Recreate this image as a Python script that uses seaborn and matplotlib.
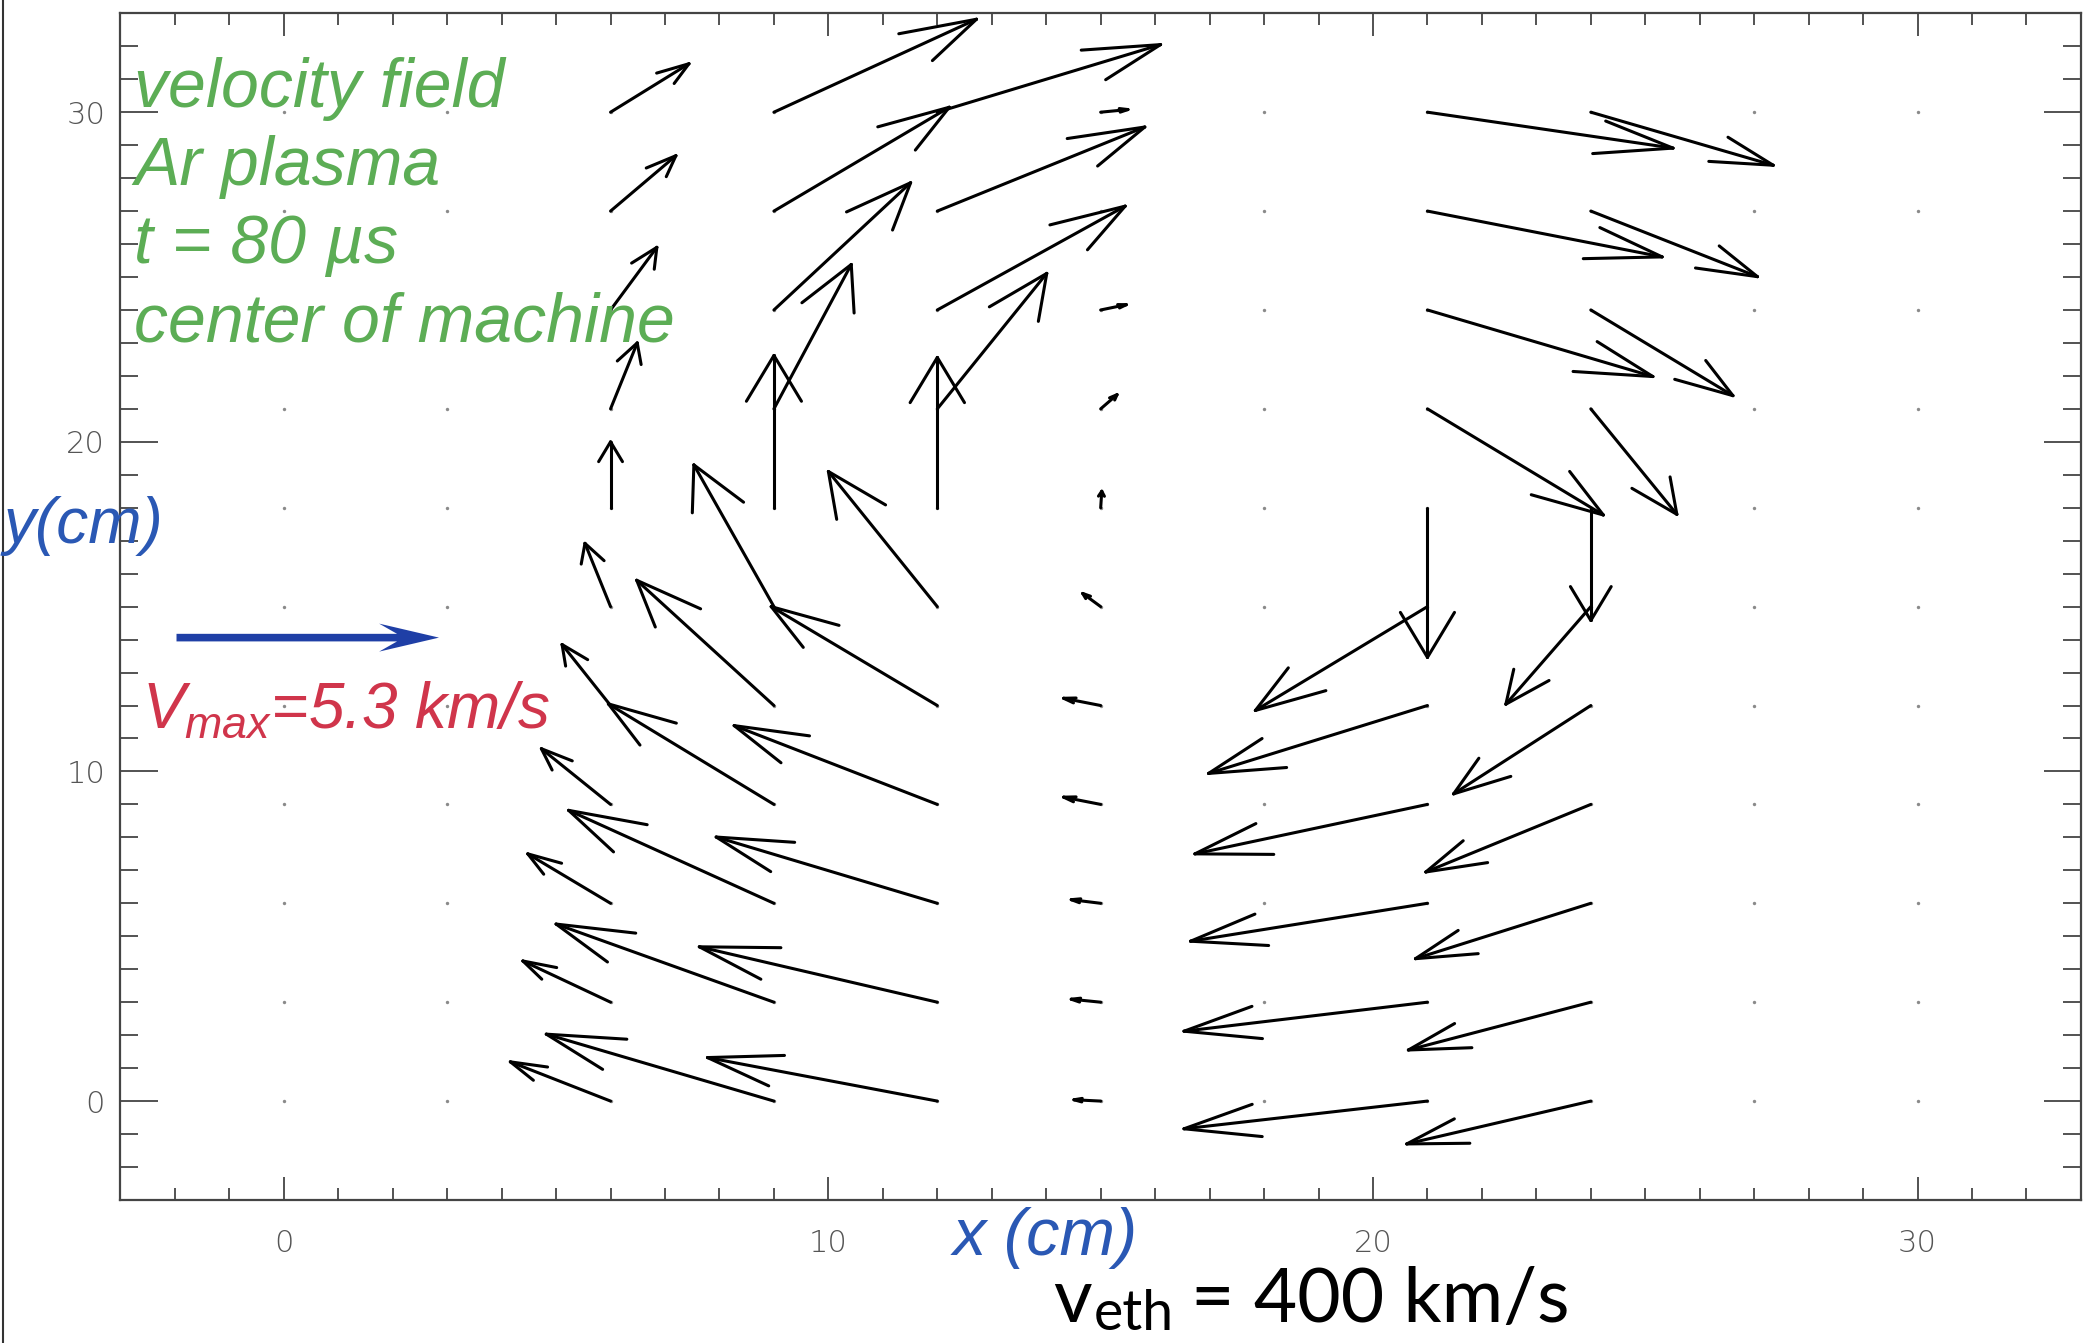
import numpy as np
import pandas as pd
import matplotlib
matplotlib.use("Agg")
import matplotlib.pyplot as plt
from matplotlib.collections import LineCollection
from matplotlib.lines import Line2D
from matplotlib.ticker import MultipleLocator
import seaborn as sns

# probe grid (cm)
x_grid = [0, 3, 6, 9, 12, 15, 18, 21, 24, 27, 30]
y_grid = [0, 3, 6, 9, 12, 15, 18, 21, 24, 27, 30]

# arrow components in plot cm, one list per column, rows y = 0 .. 30
u_x6 = [-1.84, -1.61, -1.52, -1.27, -0.89, -0.47, 0.0, 0.49, 0.85, 1.20, 1.44]
v_x6 = [1.19, 1.25, 1.50, 1.69, 1.85, 1.92, 2.00, 2.00, 1.90, 1.68, 1.47]
u_x9 = [-4.18, -4.00, -3.77, -3.04, -2.52, -1.47, 0.0, 1.42, 2.51, 3.22, 3.72]
v_x9 = [2.03, 2.37, 2.82, 3.05, 3.80, 4.30, 4.62, 4.38, 3.86, 3.15, 2.82]
u_x12 = [-4.22, -4.37, -4.06, -3.73, -3.05, -2.00, 0.0, 2.01, 3.45, 3.81, 4.10]
v_x12 = [1.32, 1.68, 2.01, 2.39, 3.00, 4.10, 4.56, 4.11, 3.15, 2.55, 2.05]
u_x15 = [-0.49, -0.54, -0.54, -0.68, -0.68, -0.33, 0.02, 0.30, 0.47, 0.0, 0.50]
v_x15 = [0.04, 0.09, 0.11, 0.22, 0.22, 0.40, 0.50, 0.43, 0.16, 0.0, 0.08]
u_x21 = [-4.47, -4.47, -4.35, -4.27, -4.02, -3.16, 0.0, 3.23, 4.14, 4.31, 4.51]
v_x21 = [-0.84, -0.88, -1.15, -1.50, -2.06, -3.15, -4.54, -3.22, -2.02, -1.39, -1.09]
u_x24 = [-3.38, -3.35, -3.22, -3.03, -2.52, -1.56, 0.0, 1.58, 2.61, 3.06, 3.35]
v_x24 = [-1.30, -1.45, -1.68, -2.05, -2.68, -2.96, -3.42, -3.20, -2.60, -1.99, -1.61]

# reference arrow for the max speed
vmax_label = "5.3 km/s"
key_x0, key_y, key_len = -1.97, 14.06, 4.82

info_lines = ["velocity field", "Ar plasma", "t = 80 \u00b5s", "center of machine"]

green = "#5cad55"
red = "#d0354b"
blue = "#2a58b4"
key_blue = "#1f3fa6"

sns.set_style("ticks")
plt.rcParams.update({
    "font.family": ["DejaVu Sans"],
    "mathtext.fontset": "custom",
    "mathtext.it": "Liberation Sans:italic",
    "mathtext.rm": "Liberation Sans",
})

# long table of the field
columns = {6: (u_x6, v_x6), 9: (u_x9, v_x9), 12: (u_x12, v_x12),
           15: (u_x15, v_x15), 21: (u_x21, v_x21), 24: (u_x24, v_x24)}
rows = []
for x in x_grid:
    u_col, v_col = columns.get(x, ([0.0] * len(y_grid), [0.0] * len(y_grid)))
    for y, u, v in zip(y_grid, u_col, v_col):
        rows.append((x, y, u, v))
df = pd.DataFrame(rows, columns=["x", "y", "u", "v"])

W, H = 2087, 1343
fig = plt.figure(figsize=(W / 100, H / 100), dpi=100)
ax = fig.add_axes([0.0577, 0.1065, 0.9394, 0.8836])
ax.set_xlim(-3, 33)
ax.set_ylim(-3, 33)

# grid points
sns.scatterplot(data=df, x="x", y="y", s=6, color="#8a8a8a", linewidth=0,
                ax=ax, legend=False, zorder=1)

# arrows, open heads like IDL velovect
segs = []
for r in df[np.hypot(df.u, df.v) > 0].itertuples():
    length = np.hypot(r.u, r.v)
    ang = np.arctan2(r.v, r.u)
    tx, ty = r.x + r.u, r.y + r.v
    segs.append([(r.x, r.y), (tx, ty)])
    for s in (1, -1):
        a = ang + np.pi + s * np.deg2rad(20)
        segs.append([(tx, ty), (tx + 0.32 * length * np.cos(a), ty + 0.32 * length * np.sin(a))])
ax.add_collection(LineCollection(segs, colors="black", linewidths=2.2,
                                 capstyle="round", zorder=3))

# key arrow
ax.arrow(key_x0, key_y, key_len, 0, width=0.23, head_width=0.85, head_length=1.1,
         overhang=0.3, length_includes_head=True, color=key_blue, lw=0, zorder=4)

# axes look
ax.xaxis.set_major_locator(MultipleLocator(10))
ax.xaxis.set_minor_locator(MultipleLocator(1))
ax.yaxis.set_major_locator(MultipleLocator(10))
ax.yaxis.set_minor_locator(MultipleLocator(1))
ax.tick_params(which="both", direction="in", top=True, right=True,
               color="#444444", width=1.3, labelcolor="#555555", labelsize=22)
ax.tick_params(axis="x", which="major", length=16.5, pad=21)
ax.tick_params(axis="x", which="minor", length=8.5)
ax.tick_params(axis="y", which="major", length=27, pad=11)
ax.tick_params(axis="y", which="minor", length=13)
for lab in ax.get_xticklabels() + ax.get_yticklabels():
    lab.set_fontweight("light")
for sp in ax.spines.values():
    sp.set_color("#444444")
    sp.set_linewidth(1.6)
ax.set_xlabel("")
ax.set_ylabel("")

# annotations
for i, line in enumerate(info_lines):
    fig.text(0.0642, 1 - (107 + 78 * i) / H, line, color=green, fontsize=49,
             style="italic", family="Liberation Sans", va="baseline", ha="left")

fig.text(0.0679, 1 - 728 / H, r"$V_{max}$=" + vmax_label, color=red, fontsize=46,
         style="italic", family="Liberation Sans", va="baseline", ha="left")
fig.text(0.5008, 1 - 1255 / H, "x (cm)", color=blue, fontsize=48,
         style="italic", family="Liberation Sans", va="baseline", ha="center")
fig.text(4 / W, 1 - 543 / H, "y(cm)", color=blue, fontsize=46,
         style="italic", family="Liberation Sans", va="baseline", ha="left")

# v_eth line, built from pieces so the subscript stays inside the figure
renderer = fig.canvas.get_renderer()
base = 1 - 1322 / H
t_v = fig.text(1053 / W, base, "v", color="black", fontsize=54, family="Lato",
               va="baseline", ha="left")
x_next = t_v.get_window_extent(renderer).x1 / W + 0.001
t_sub = fig.text(x_next, 1 - 1330 / H, "eth", color="black", fontsize=40,
                 family="Lato", va="baseline", ha="left")
x_next = t_sub.get_window_extent(renderer).x1 / W + 0.008
fig.text(x_next, base, "= 400 km/s", color="black", fontsize=54, family="Lato",
         va="baseline", ha="left")

fig.add_artist(Line2D([0.0012, 0.0012], [0, 1], transform=fig.transFigure,
                      color="#333333", lw=1.5))

fig.savefig("out.png", dpi=100)
